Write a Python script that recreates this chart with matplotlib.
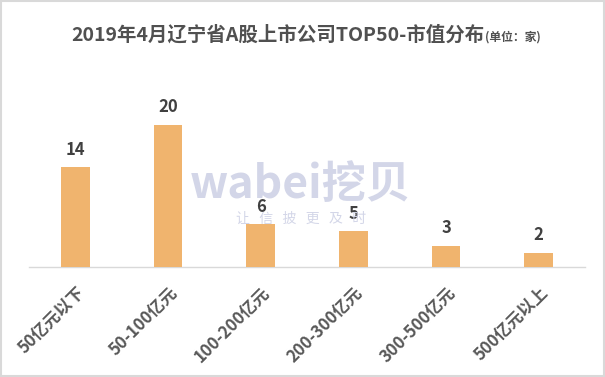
import matplotlib
matplotlib.use("Agg")
import matplotlib.pyplot as plt
from matplotlib.patches import Rectangle

plt.rcParams['font.family'] = ['Noto Sans CJK SC', 'DejaVu Sans']

categories = ["50亿元以下", "50-100亿元", "100-200亿元", "200-300亿元", "300-500亿元", "500亿元以上"]
counts = [14, 20, 6, 5, 3, 2]
title_main = "2019年4月辽宁省A股上市公司TOP50-市值分布"
title_unit = "(单位：家)"

fig = plt.figure(figsize=(6.05, 3.77), dpi=100)
ax = fig.add_axes([0.048, 0.292, 0.919, 0.471])

x = list(range(len(categories)))
ax.bar(x, counts, width=0.31, color="#F0B46E", zorder=3)
ax.set_xlim(-0.5, len(categories) - 0.5)
ax.set_ylim(0, 25)
for xi, v in zip(x, counts):
    ax.text(xi, v + 1.2, str(v), ha="center", va="bottom", fontsize=12,
            fontweight="bold", color="#404040", zorder=5)

for s in ["top", "right", "left"]:
    ax.spines[s].set_visible(False)
ax.spines["bottom"].set_color("#D9D9D9")
ax.spines["bottom"].set_linewidth(1.0)
ax.set_yticks([])
ax.set_xticks(x)
ax.set_xticklabels(categories, rotation=45, ha="right", rotation_mode="anchor",
                   fontsize=12, fontweight="bold", color="#595959")
ax.tick_params(axis="x", length=0, pad=12)

# watermark
fig.text(0.497, 0.51, "wabei挖贝", ha="center", va="center", fontsize=32,
         fontweight="bold", color="#D3D6E8", zorder=0)
fig.text(0.497, 0.42, "让   信   披   更   及   时", ha="center", va="center", fontsize=10,
         color="#D3D6E8", zorder=0)

# title
fig.canvas.draw()
r = fig.canvas.get_renderer()
t1 = fig.text(0.0, 0.0, title_main, fontsize=14, fontweight="bold", color="#505050")
t2 = fig.text(0.0, 0.0, title_unit, fontsize=8.5, fontweight="bold", color="#505050")
w1 = t1.get_window_extent(r).width
w2 = t2.get_window_extent(r).width
W = fig.bbox.width
start = (W - (w1 + w2)) / 2 + 3
y = 1 - 41 / 377
t1.set_position((start / W, y))
t2.set_position(((start + w1 + 1) / W, y))

# frame
fig.patches.append(Rectangle((0.001, 0.002), 0.997, 0.995, transform=fig.transFigure,
                             fill=False, edgecolor="#D9D9D9", linewidth=1.5))

fig.savefig("out.png", dpi=100, facecolor="white")
